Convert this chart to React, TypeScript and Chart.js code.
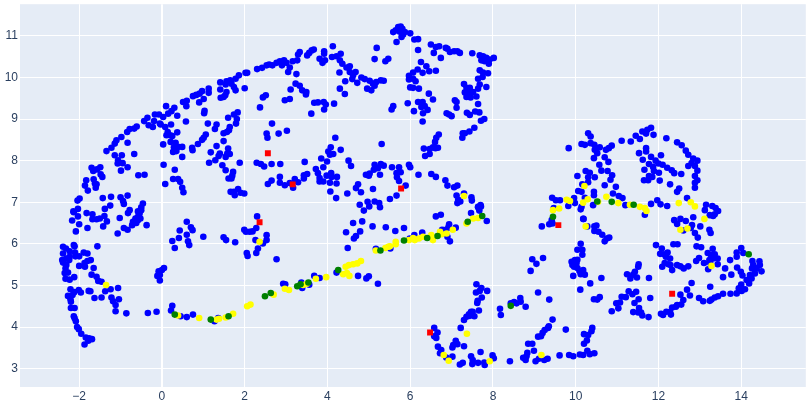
import React, { useEffect, useRef } from "react";
import { Chart, registerables } from "chart.js";

Chart.register(...registerables);

const bluePoints: number[][] = [
[-1.34,8.23],[-1.22,8.31],[-1.14,8.41],[-1.10,8.49],[-0.98,8.57],[-0.84,8.69],[-0.78,8.76],[-0.67,8.77],[-0.61,8.82],[-0.43,8.95],[-0.35,9.03],[-0.32,8.85],[-0.22,8.81],[-0.17,9.11],[-0.07,9.11],[-0.19,8.95],[-0.05,8.89],[0.03,9.05],[0.15,9.13],[0.23,9.19],[0.30,9.27],[0.10,9.31],[0.51,9.41],[0.60,9.44],[0.59,9.31],[0.90,9.40],[1.01,9.48],[0.75,9.55],[0.83,9.58],[0.91,9.61],[0.97,9.67],[1.13,9.73],[1.13,9.63],[1.41,9.88],[1.56,9.91],[1.65,9.93],[1.78,9.97],[1.86,10.05],[2.02,10.11],[2.06,10.11],[2.30,10.20],[2.42,10.23],[2.53,10.29],[2.59,10.31],[1.41,9.71],[1.54,9.83],[1.68,9.85],[1.74,9.77],[1.78,9.69],[2.00,9.74],[1.56,9.65],[1.53,9.57],[1.42,9.51],[1.49,9.53],[2.44,9.52],[2.51,9.57],[2.37,9.28],[1.03,9.20],[1.02,9.14],[1.11,8.89],[1.32,8.87],[1.28,8.76],[1.60,9.03],[1.74,9.11],[1.83,9.16],[1.81,9.0],[1.79,8.89],[1.64,8.81],[1.62,8.73],[1.57,8.69],[1.49,8.66],[1.49,8.47],[1.60,8.29],[1.58,8.17],[1.64,8.16],[1.54,8.09],[1.88,7.95],[1.06,8.63],[1.01,8.55],[0.97,8.50],[0.87,8.40],[0.73,8.31],[0.74,8.25],[1.18,8.20],[1.32,8.35],[1.40,8.17],[1.37,8.11],[1.29,8.01],[1.14,7.95],[1.46,7.89],[1.54,7.77],[1.72,7.73],[1.70,7.64],[1.61,7.57],[1.68,7.57],[1.66,7.25],[1.76,7.17],[1.74,7.25],[1.84,7.32],[1.90,7.23],[1.99,7.21],[2.29,7.95],[2.39,7.92],[2.47,7.86],[2.56,7.44],[2.53,8.65],[2.55,8.55],
[-0.03,8.87],[0.08,8.81],[0.22,8.87],[0.14,8.69],[0.11,8.61],[0.20,8.61],[0.25,8.59],[0.37,8.68],[0.37,9.08],[0.58,8.94],[0.21,8.45],[0.33,8.43],[0.29,8.32],[0.39,8.33],[0.49,8.33],[0.27,8.21],[0.35,8.23],[0.49,8.09],[0.03,8.39],[0.04,7.9],[0.31,7.78],[0.27,7.56],[0.39,7.56],[0.44,7.49],[0.08,7.44],[0.49,7.35],[0.52,7.24],
[-0.83,8.43],[-1.14,8.13],[-0.97,8.13],[-1.06,8.01],[-1.07,7.93],[-0.95,7.94],[-0.83,7.84],[-0.99,7.76],[-0.67,8.16],[-0.57,7.65],[-0.42,7.66],[-1.70,7.83],[-1.66,7.75],[-1.57,7.79],[-1.49,7.84],[-1.48,7.67],[-1.44,7.61],[-1.83,7.53],[-1.86,7.40],[-1.65,7.55],[-1.62,7.45],[-1.58,7.43],[-1.60,7.35],[-1.79,7.28],[-1.43,7.10],[-1.23,7.13],[-1.0,7.12],[-0.83,7.16],[-0.94,7.03],[-0.92,6.96],[-1.99,7.09],[-2.04,7.04],[-2.03,6.84],[-2.13,6.76],[-1.25,6.92],[-1.38,6.84],[-0.78,6.81],[-0.46,6.97],[-0.5,6.88],[-0.58,6.78],
[-2.14,6.78],[-1.82,6.74],[-1.68,6.71],[-1.68,6.59],[-1.58,6.59],[-1.50,6.61],[-1.39,6.67],[-1.33,6.54],[-1.42,6.42],[-2.17,6.56],[-2.03,6.66],[-2.0,6.47],[-2.08,6.30],[-1.80,6.38],[-0.82,6.74],[-1.02,6.62],[-0.92,6.38],[-0.83,6.34],[-1.07,6.25],[-0.37,6.45],[-0.72,6.45],[-0.70,6.53],[-0.62,6.50],[-0.64,6.61],[-0.58,6.65],[-0.54,6.73],[-0.50,6.81],[-0.58,6.57],[-0.52,6.61],
[-2.39,5.93],[-2.32,5.89],[-2.23,5.82],[-2.13,5.97],[-2.11,5.94],[-2.39,5.77],[-2.41,5.61],[-2.39,5.55],[-2.31,5.65],[-2.24,5.61],[-2.23,5.69],[-2.10,5.79],[-2.09,5.70],[-2.0,5.70],[-1.89,5.79],[-1.80,5.77],[-1.72,5.61],[-1.80,5.59],[-1.87,5.54],[-1.86,5.45],[-2.0,5.47],[-1.56,5.94],[-1.65,5.42],[-2.31,5.49],[-2.33,5.41],[-2.35,5.30],[-2.27,5.31],[-2.12,5.20],[-2.33,5.16],[-2.23,5.14],[-1.70,5.26],[-1.58,5.21],[-1.54,5.11],[-1.46,5.09],[-2.21,4.91],[-2.01,4.89],[-1.96,4.83],[-2.12,4.84],[-1.77,4.87],[-1.73,4.86],[-2.27,4.75],[-2.16,4.77],[-2.21,4.67],[-2.20,4.61],[-2.20,4.46],[-2.11,4.46],[-1.63,4.70],[-1.46,4.71],[-1.37,4.86],[-1.24,4.91],[-1.06,4.94],[-1.04,4.67],[-1.22,4.71],[-1.18,4.62],[-1.12,4.53],[-1.12,4.38],[-0.86,4.33],[-0.34,4.34],[-0.13,4.37],[-2.13,4.26],[-2.11,4.21],[-2.08,4.14],[-2.05,4.0],[-2.01,3.95],[-1.95,3.84],[-1.84,3.75],[-1.76,3.73],[-1.69,3.71],[-1.78,3.67],[-1.87,3.58],
[0.25,6.07],[0.31,5.90],[0.41,6.14],[0.43,6.32],[0.60,6.53],[0.60,6.22],[0.70,6.40],[0.74,6.33],[0.63,6.06],[0.66,5.97],[1.0,6.17],[1.49,6.16],[1.55,6.09],[1.77,6.04],[1.99,6.34],[2.03,6.29],[2.12,6.29],[2.19,6.30],[2.28,6.38],[2.30,6.66],[2.26,6.09],[2.44,6.01],[2.53,6.09],[2.53,6.21],[2.32,5.89],[2.28,5.78],[2.05,5.78],[2.07,5.71],
[-0.11,5.23],[-0.08,5.34],[-0.05,5.25],[0,5.37],[0.05,5.42],[-0.05,5.12],[0.25,4.51],[0.22,4.40],[0.45,4.26],[0.60,4.24],[0.75,4.30],[1.27,4.14],[1.36,4.22],
[2.67,10.29],[2.77,10.35],[2.85,10.39],[2.95,10.41],[2.90,10.29],[3.01,10.35],[3.09,10.24],[3.05,10.13],[3.25,10.08],[3.16,10.39],[3.27,10.41],[3.29,10.55],[3.33,10.61],[3.51,10.53],[3.56,10.59],[3.62,10.65],[3.67,10.67],[3.81,10.45],[3.94,10.41],[3.88,10.35],[3.92,10.63],[3.92,10.57],[4.13,10.75],[4.11,10.49],[4.22,10.51],[4.32,10.57],[4.30,10.41],[4.36,10.33],[4.54,10.27],[4.46,10.24],[4.54,10.13],[4.68,10.13],[4.62,10.05],[4.29,10.12],[4.82,10.0],[4.90,9.96],[5.02,9.92],[5.10,9.85],[5.18,9.89],[5.29,9.93],[5.36,9.92],[4.43,9.91],[4.60,9.96],[4.72,9.87],[4.96,9.73],[5.06,9.69],[4.30,9.73],[4.42,9.60],[5.14,9.80],[5.14,10.44],[5.19,10.71],[5.40,10.39],[5.47,10.45],[3.23,9.85],[3.11,9.71],[3.33,9.80],[3.39,9.69],[3.49,9.65],[3.48,9.59],[2.97,9.45],[3.09,9.48],[3.68,9.39],[3.77,9.40],[3.91,9.41],[3.96,9.35],[3.92,9.23],[4.16,9.37],[3.61,9.13],[2.66,8.89],[2.82,8.65],[3.02,8.72],[4.19,8.55],[5.31,8.40],[4.08,8.32],[4.02,8.22],[4.14,8.16],[4.06,8.14],[4.32,8.26],[3.85,8.05],[3.99,7.98],[3.45,7.97],[2.65,7.92],[2.86,7.92],[3.90,7.84],[3.72,7.80],[3.77,7.70],[3.81,7.58],[3.81,7.50],[3.90,7.50],[3.98,7.64],[4.09,7.70],[4.10,7.61],[4.23,7.61],[4.22,7.45],[4.06,7.47],[3.51,7.68],[3.43,7.65],[3.43,7.57],[2.85,7.61],[2.65,7.52],[2.85,7.47],[2.97,7.41],[3.09,7.46],[3.21,7.56],[3.29,7.48],[3.17,7.35],[4.07,7.26],[4.21,7.10],[4.48,7.21],[4.51,8.0],[4.57,7.87],[4.74,7.43],[4.69,7.34],[4.81,7.24],[4.78,6.94],[4.97,7.01],[5.01,6.90],[5.14,7.02],[5.25,6.98],[5.27,6.88],[4.88,6.80],[5.10,7.32],[5.51,7.08],[5.67,7.16],[5.89,7.40],[5.14,7.90],[5.29,7.92],[5.36,7.88],[5.22,7.82],[5.12,7.78],[5.02,7.69],[4.93,7.66],[5.00,7.64],[5.27,7.66],[5.56,7.84],[5.73,7.84],[5.67,7.70],[5.77,7.72],[5.68,7.60],[5.73,7.51],[5.97,7.90],[6.0,7.84],[6.20,7.66],[6.51,7.68],[6.62,7.61],[6.85,7.53],[6.90,7.40],[7.06,7.36],[7.14,7.40],[7.30,7.21],[7.12,7.16],[7.16,7.06],[7.21,7.02],[7.14,6.98],[7.48,7.12],[7.49,7.04],[7.64,6.88],[7.71,6.90],[7.67,6.80],
[5.67,10.85],[5.59,11.09],[5.65,11.13],[5.71,11.21],[5.77,11.22],[5.81,11.17],[5.87,11.09],[5.79,10.97],[5.83,11.03],[5.75,11.10],[6.0,11.06],[6.10,10.91],[6.19,10.92],[6.19,10.66],[6.50,10.79],[6.62,10.73],[6.70,10.75],[6.57,10.59],[6.74,10.47],[6.86,10.71],[6.90,10.69],[6.96,10.61],[7.06,10.63],[7.14,10.63],[7.20,10.59],[7.50,10.58],[6.26,10.37],[6.39,10.27],[6.46,10.15],[6.62,10.16],[6.18,10.19],[6.07,10.12],[6.30,10.11],[5.97,10.04],[5.97,9.95],[6.07,9.97],[6.13,9.91],[6.0,9.76],[6.07,9.75],[6.21,9.73],[6.45,9.61],[6.55,9.47],[5.94,9.38],[5.59,9.31],[5.55,9.23],[6.09,9.19],[6.19,9.41],[6.30,9.41],[6.27,9.29],[6.35,9.31],[6.42,9.22],[6.31,9.14],[6.30,8.94],[6.88,9.14],[6.94,9.11],[7.0,9.07],[7.08,9.45],[7.12,9.41],[7.12,9.27],[7.37,9.15],[7.44,9.10],[7.57,9.18],[7.67,9.16],[7.71,8.96],[7.79,9.0],[7.30,9.84],[7.36,9.75],[7.44,9.75],[7.52,9.65],[7.32,9.64],[7.36,9.53],[7.46,9.52],[7.44,9.65],[7.60,9.54],[7.64,9.36],[7.84,9.77],[7.64,9.73],[7.68,9.83],[7.64,9.97],[7.75,10.01],[7.68,10.17],[7.76,10.12],[7.88,10.10],[7.68,10.53],[7.76,10.51],[7.84,10.47],[7.92,10.43],[8.02,10.47],[7.72,10.41],[7.80,10.39],[7.90,10.33],[7.55,8.79],[7.43,8.70],[7.32,8.66],[7.27,8.66],[7.26,8.55],[6.69,8.63],[6.63,8.55],[6.60,8.45],[6.33,8.29],[6.47,8.28],[6.55,8.32],[6.67,8.31],[6.47,8.16],[6.36,8.11],[6.61,8.30],
[7.47,6.74],[7.64,6.89],[7.70,6.93],[7.85,6.55],[6.62,6.66],[6.74,6.70],[4.62,6.50],[4.84,6.54],[5.09,6.42],[4.79,6.30],[4.69,6.19],[4.64,6.13],[4.45,6.28],[4.49,5.90],[5.41,6.40],[5.64,6.31],[5.85,6.38],[6.10,6.21],[6.29,6.27],[6.82,6.33],[6.77,6.34],[6.94,6.47],[7.10,6.39],[6.92,6.39],[6.90,6.17],[6.96,6.06],[6.80,6.26],[5.17,5.88],[5.52,5.89],[5.99,6.13],[2.77,5.63],[2.93,5.04],[2.98,5.03],[3.39,4.94],[3.37,5.07],[3.56,5.02],[3.68,5.23],[3.81,5.18],[4.22,5.31],[4.74,5.23],[4.94,5.17],[5.0,5.22],[5.22,5.04],
[7.60,5.03],[7.72,4.94],[7.68,4.87],[7.59,4.83],[7.86,4.87],[7.73,4.71],[7.63,4.63],[7.62,4.58],[7.66,4.40],[7.47,4.37],[7.42,4.31],[7.36,4.25],[7.30,4.17],[7.44,4.27],[7.55,4.26],[7.51,4.37],[7.22,3.98],[6.58,3.98],[6.66,3.87],[6.58,3.78],[6.63,3.74],[6.67,3.53],[6.75,3.45],[6.72,3.37],[6.87,3.27],[7.02,3.29],[7.02,3.51],[7.04,3.57],[7.10,3.67],[7.14,3.59],[7.30,3.54],[7.70,3.40],[7.47,3.30],[7.51,3.21],[7.50,3.11],[7.64,3.14],[7.79,3.15],[7.80,3.09],[7.20,3.10],[7.27,3.14],[7.99,3.32],[8.02,3.25],[8.41,3.18],[8.17,4.44],[8.19,4.29],[8.43,4.57],[8.51,4.60],[8.57,4.57],[8.66,4.70],[8.67,4.61],[8.79,4.49],[8.95,5.63],[9.05,5.52],[8.91,5.35],[9.09,4.83],[8.85,3.60],[8.95,3.60],[9.09,3.77],[8.83,3.38],[8.81,3.30],[8.73,3.26],[8.79,3.21],[8.99,3.43],[9.03,3.18],[9.11,3.24],
[9.36,4.66],[9.44,4.18],[9.35,4.02],[9.33,3.98],[9.25,3.93],[9.20,3.86],[9.16,3.78],[9.76,3.94],[9.24,3.21],[9.32,3.24],[9.61,3.32],[9.84,3.33],[9.94,3.30],[10.10,3.34],[10.18,3.33],[10.28,3.43],[10.34,3.35],[10.45,3.37],[10.20,3.83],[10.30,3.81],[10.38,3.90],[10.40,3.98],[10.27,3.68],[10.20,3.60],[10.11,4.90],[10.35,5.05],[10.62,5.18],[10.44,4.67],[10.52,4.66],[10.58,4.72],[9.94,5.23],[10.02,5.54],[9.90,5.57],[9.92,5.49],[9.96,5.45],[10.04,5.42],[10.09,5.35],[10.12,5.27],[10.22,5.26],[10.18,5.37],[9.98,5.61],[10.04,5.62],[10.12,6.0],[10.04,5.86],[10.16,5.86],[10.16,5.74],[9.21,5.66],[9.18,6.42],[10.18,6.60],[10.28,6.42],[10.45,6.42],[10.50,6.44],[10.45,6.31],[10.55,6.29],[10.64,6.22],[10.70,6.06],[10.81,6.15],[10.75,6.13],[9.36,6.47],[9.44,6.49],[9.42,6.57],
[10.87,4.38],[10.98,4.57],[11.07,4.59],[11.03,4.45],[11.11,4.73],[11.21,4.72],[11.28,4.86],[11.37,4.79],[11.46,4.85],[11.52,4.67],[11.42,4.58],[11.80,4.70],[11.53,4.46],[11.39,4.36],[11.51,4.35],[11.58,4.35],[11.61,4.28],[11.76,4.24],[11.24,5.27],[11.32,5.17],[11.39,5.26],[11.48,5.19],[11.43,5.33],[11.51,5.45],[11.52,5.51],[11.77,5.18],[11.94,5.97],[12.36,5.99],[12.46,5.99],[12.08,5.89],[12.04,5.76],[12.13,5.75],[12.22,5.79],[12.18,5.69],[12.28,5.65],[12.15,5.54],[12.09,5.45],[12.24,5.51],[12.29,5.49],[12.33,5.37],[12.45,5.49],[12.53,5.46],[12.61,5.41],[12.72,5.46],[12.92,5.94],[13.03,5.92],[13.31,5.88],[13.19,5.78],[13.27,5.73],[13.36,5.75],[13.43,5.65],[12.98,5.66],[12.91,5.59],[13.10,5.54],[13.23,5.61],[13.32,5.65],[13.25,5.54],[13.43,5.51],[13.20,5.39],[13.61,5.41],[13.56,5.20],[13.76,5.26],[13.73,5.61],[13.89,5.69],[13.89,5.79],[14.0,5.90],[14.05,5.78],[13.90,5.43],[13.99,5.33],[14.03,5.24],[14.27,5.59],[14.29,5.49],[14.26,5.41],[14.33,5.29],[14.37,5.41],[14.44,5.58],[14.45,5.49],[14.49,5.34],[14.21,5.25],[14.25,5.17],[14.13,5.13],[14.19,5.05],[14.0,5.02],[13.94,4.93],[14.09,4.91],[14.01,4.87],[13.89,4.81],[13.74,4.80],[13.56,4.80],[13.44,4.74],[13.36,4.71],[13.28,4.66],[13.24,4.63],[13.25,4.97],[13.08,4.62],[12.98,4.70],[12.80,5.06],[12.69,4.90],[12.76,4.76],[12.53,4.78],[12.60,4.65],[12.55,4.54],[12.45,4.53],[12.33,4.47],[12.42,4.49],[12.28,4.37],[12.30,4.30],[12.19,4.37],[12.11,4.29],[12.06,4.32],
[9.83,8.30],[10.30,8.66],[10.36,8.58],[10.36,8.42],[10.14,8.40],[10.22,8.38],[10.45,8.38],[10.46,8.26],[10.52,8.18],[10.58,8.32],[10.73,8.26],[10.80,8.30],[10.87,8.36],[10.70,8.08],[10.79,7.97],[10.44,8.06],[10.57,7.90],[10.62,7.76],[10.77,7.75],[10.88,7.65],[10.84,7.54],[10.97,7.37],[10.70,7.41],[10.04,7.63],[10.24,7.75],[10.34,7.71],[10.30,7.60],[10.46,7.60],[10.30,7.48],[10.16,7.43],[11.11,8.48],[11.33,8.46],[11.45,8.60],[11.55,8.52],[11.61,8.70],[11.73,8.74],[11.82,8.79],[11.88,8.62],[11.70,8.65],[12.19,8.54],[11.70,8.30],[11.70,8.22],[11.53,8.18],[11.82,8.09],[12.06,8.13],[11.62,8.02],[11.93,8.0],[11.77,7.92],[12.10,7.90],[12.0,7.93],[11.87,7.85],[12.21,7.83],[12.32,7.77],[12.38,7.70],[12.55,7.68],[11.66,7.78],[11.89,7.75],[12.01,7.71],[11.77,7.63],[11.85,7.61],[11.65,7.53],[11.75,7.53],[12.03,7.52],[12.28,7.43],[12.50,7.33],[12.45,7.25],[12.45,8.44],[12.56,8.37],[12.66,8.24],[12.72,8.14],[12.84,8.05],[12.94,8.0],[12.72,7.87],[12.88,7.87],[12.80,7.94],[12.94,7.76],[12.88,7.63],[12.94,7.53],[12.88,7.47],[12.88,7.35],[12.69,7.10],[11.97,7.05],[12.05,6.95],[12.21,6.91],[11.82,6.96],[11.67,6.70],[11.20,6.93],[11.04,7.15],[11.13,7.10],[10.90,7.21],[9.98,6.98],[9.82,6.91],[9.96,7.10],[10.12,6.83],[10.14,6.89],[10.42,6.93],[10.22,7.11],[10.06,7.27],[10.14,7.25],[10.44,7.25],[10.44,7.17],[9.43,7.11],[9.52,7.05],[9.62,7.05],[9.47,6.86],[10.19,6.60],[13.15,6.94],[13.12,6.81],[13.30,6.91],[13.38,6.86],[13.44,6.79],[13.36,6.71],[13.24,6.69],[13.32,6.67],[12.84,6.64],[12.38,6.57],[12.53,6.60],[12.45,6.48],[12.66,6.55],[12.81,6.45],[13.01,6.42],[12.60,6.32],[12.78,6.38],[12.88,6.26],[12.95,6.15],[13.23,6.34],[13.26,6.26]
];

const yellowPoints: number[][] = [
[-1.35,5.01],[0.39,4.28],[0.90,4.22],[1.32,4.18],[1.38,4.2],[1.54,4.23],[1.72,4.32],[2.06,4.50],[2.14,4.54],[2.36,6.05],[2.70,4.78],[2.97,4.92],[3.07,4.89],[3.41,5.01],[3.50,5.04],[3.72,5.16],[3.97,5.20],[4.38,5.27],[4.47,5.30],[4.53,5.23],[4.44,5.45],[4.52,5.49],[4.62,5.51],[4.72,5.53],[4.81,5.59],[5.17,5.84],[5.40,5.90],[5.47,5.93],[5.51,5.94],[5.65,6.05],[5.65,5.99],[5.97,6.09],[6.07,6.14],[6.11,6.09],[6.21,6.13],[6.31,6.17],[6.51,6.21],[6.55,6.09],[6.72,6.29],[6.88,6.25],[7.03,6.34],[6.76,6.23],[7.36,6.49],[7.52,6.61],[7.64,6.62],[7.30,7.15],[7.37,3.84],[6.81,3.33],[6.93,3.19],[7.92,3.18],[9.17,3.33],[9.45,6.81],[9.60,6.85],[10.24,6.42],[13.28,5.47],[10.21,7.39],[9.78,7.06],[9.86,7.03],[10.18,6.99],[10.29,7.07],[10.54,7.01],[10.74,7.13],[11.03,6.98],[11.31,6.94],[11.55,6.89],[11.67,6.86],[11.71,6.79],[12.49,6.98],[12.78,7.0],[12.88,6.90],[13.11,6.60],[12.53,6.34],[12.70,6.37]
];

const greenPoints: number[][] = [
[0.31,4.30],[1.18,4.18],[1.61,4.26],[2.49,4.74],[2.63,4.82],[3.27,4.98],[3.35,5.03],[3.54,5.07],[4.26,5.37],[5.28,5.84],[5.85,6.08],[6.41,6.14],[6.66,6.19],[7.39,6.53],[7.74,6.67],[8.43,4.51],[9.45,6.65],[10.52,7.02],[10.87,7.01],[11.40,6.94],[14.18,5.75]
];

const redPoints: number[][] = [
[2.56,8.18],[2.36,6.52],[3.16,7.43],[5.78,7.33],[6.48,3.87],[9.58,6.45],[12.33,4.80]
];

const xRange = [-3.43, 15.56];
const yRange = [2.56, 11.76];
const tickColor = "#2A3F5F";

const toXY = (pts: number[][]) => pts.map(([x, y]) => ({ x, y }));
const formatTick = (v: number | string) => String(v).replace("-", "\u2212");

const plotBackground = {
  id: "plotBackground",
  beforeDraw(chart: any) {
    const { ctx, chartArea: a } = chart;
    ctx.save();
    ctx.fillStyle = "#E5ECF6";
    ctx.fillRect(a.left, a.top, a.right - a.left, a.bottom - a.top);
    ctx.restore();
  },
};

export default function App() {
  const ref = useRef<HTMLCanvasElement | null>(null);

  useEffect(() => {
    document.body.style.margin = "0";
    const chart = new Chart(ref.current as HTMLCanvasElement, {
      type: "scatter",
      plugins: [plotBackground],
      data: {
        datasets: [
          { data: toXY(greenPoints), backgroundColor: "#008000", pointRadius: 3.3 },
          { data: toXY(redPoints), backgroundColor: "#FF0000", pointRadius: 4.2, pointStyle: "rect" },
          { data: toXY(yellowPoints), backgroundColor: "#FFFF00", pointRadius: 3.3 },
          { data: toXY(bluePoints), backgroundColor: "#0000FF", pointRadius: 3.3 },
        ] as any,
      },
      options: {
        responsive: false,
        animation: false,
        layout: { padding: { top: 2, right: 4, left: 0, bottom: 0 } },
        plugins: { legend: { display: false }, tooltip: { enabled: false } },
        elements: { point: { borderWidth: 0, hoverRadius: 3.3 } },
        scales: {
          x: {
            type: "linear",
            min: xRange[0],
            max: xRange[1],
            border: { display: false },
            grid: {
              color: "#FFFFFF",
              drawTicks: false,
              lineWidth: (c: any) => (c.tick && c.tick.value === 0 ? 2 : 1),
            },
            ticks: {
              stepSize: 2,
              includeBounds: false,
              maxRotation: 0,
              padding: 2,
              color: tickColor,
              font: { family: "'Liberation Sans', Arial, sans-serif", size: 12 },
              callback: (v: any) => formatTick(v),
            },
            afterFit: (s: any) => { s.height = 26; s.paddingLeft = 0; s.paddingRight = 0; },
          },
          y: {
            type: "linear",
            min: yRange[0],
            max: yRange[1],
            border: { display: false },
            grid: { color: "#FFFFFF", drawTicks: false, lineWidth: 1 },
            ticks: {
              stepSize: 1,
              includeBounds: false,
              padding: 2,
              color: tickColor,
              font: { family: "'Liberation Sans', Arial, sans-serif", size: 12 },
              callback: (v: any) => formatTick(v),
            },
            afterFit: (s: any) => { s.width = 20; s.paddingTop = 0; s.paddingBottom = 0; },
          },
        },
      } as any,
    });
    return () => chart.destroy();
  }, []);

  return (
    <div style={{ position: "absolute", left: 0, top: 0, width: 810, height: 413, background: "#FFFFFF" }}>
      <canvas ref={ref} width={810} height={413} style={{ display: "block" }} />
    </div>
  );
}
